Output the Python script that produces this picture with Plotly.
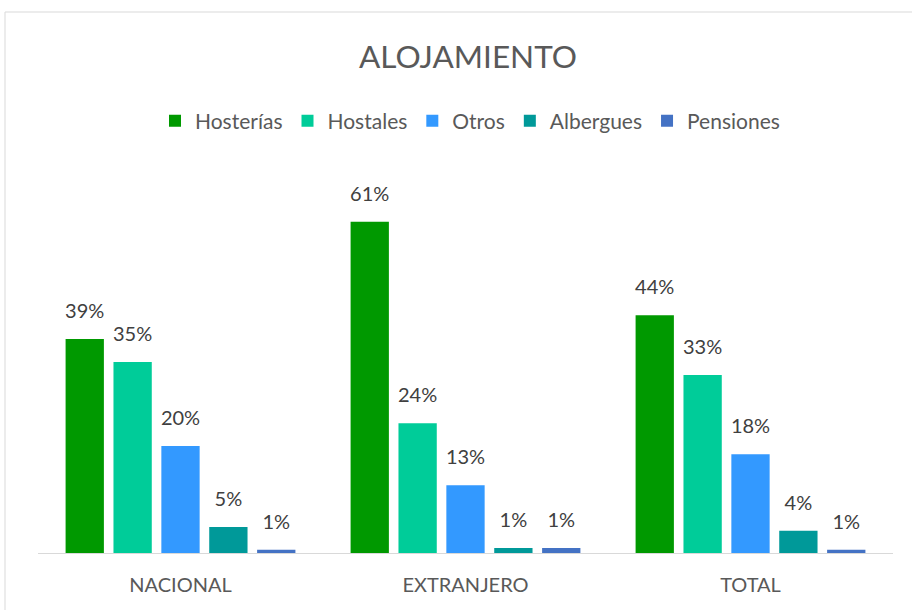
import plotly.graph_objects as go

categories = ["NACIONAL", "EXTRANJERO", "TOTAL"]
series_names = ["Hosterías", "Hostales", "Otros", "Albergues", "Pensiones"]
hosterias = [0.394, 0.610, 0.438]
hostales = [0.352, 0.239, 0.328]
otros = [0.197, 0.125, 0.182]
albergues = [0.048, 0.009, 0.041]
pensiones = [0.006, 0.009, 0.006]
series_values = [hosterias, hostales, otros, albergues, pensiones]
colors = ["#009900", "#00CC99", "#3399FF", "#009999", "#4472C4"]

FONT = "Lato"
OFF = 0  # body margin removed via post_script
W, H = 912, 610
L, R, T, B = 38, 19, 173, 57
pw, ph = W - L - R, H - T - B

def px_x(px):
    return (px - OFF - L) / pw

def px_y(py):
    return (H - B - (py - OFF)) / ph

fig = go.Figure()
for name, vals, col in zip(series_names, series_values, colors):
    fig.add_trace(go.Bar(
        x=categories, y=vals, name=name, offsetgroup=name,
        marker=dict(color=col, line=dict(width=0)),
    ))
for name, vals in zip(series_names, series_values):
    fig.add_trace(go.Scatter(
        x=categories, y=vals, mode="markers+text", offsetgroup=name,
        marker=dict(size=24, opacity=0), showlegend=False, hoverinfo="skip",
        texttemplate="%{y:.0%}", textposition="top center", cliponaxis=False,
        textfont=dict(family=FONT, size=20, color="#404040"),
    ))

fig.update_layout(
    width=W, height=H,
    margin=dict(l=L, r=R, t=T, b=B),
    paper_bgcolor="white", plot_bgcolor="white",
    barmode="group", bargap=0.16, bargroupgap=0.2,
    scattermode="group", scattergap=0.16,
    title=dict(text="ALOJAMIENTO", x=(468 - OFF) / W, xanchor="center",
               y=1 - (57 - OFF) / H, yanchor="middle",
               font=dict(family=FONT, size=31.5, color="#595959")),
    legend=dict(orientation="h", x=px_x(470), xanchor="center", y=px_y(121), yanchor="middle",
                font=dict(family=FONT, size=21, color="#595959"), traceorder="normal"),
    xaxis=dict(showline=True, linecolor="#d9d9d9", linewidth=1, ticks="",
               ticklabelstandoff=14,
               tickfont=dict(family=FONT, size=20, color="#595959"), showgrid=False),
    yaxis=dict(range=[0, 0.70], visible=False, showgrid=False, zeroline=False),
    showlegend=True,
)
fig.add_shape(type="rect", xref="paper", yref="paper",
              x0=px_x(5), x1=px_x(940), y0=px_y(660), y1=px_y(12),
              line=dict(color="#d9d9d9", width=1), fillcolor="rgba(0,0,0,0)", layer="below")

fig.write_html("out.html", config={"displayModeBar": False},
               post_script="document.body.style.margin='0px';document.body.style.overflow='hidden';")
